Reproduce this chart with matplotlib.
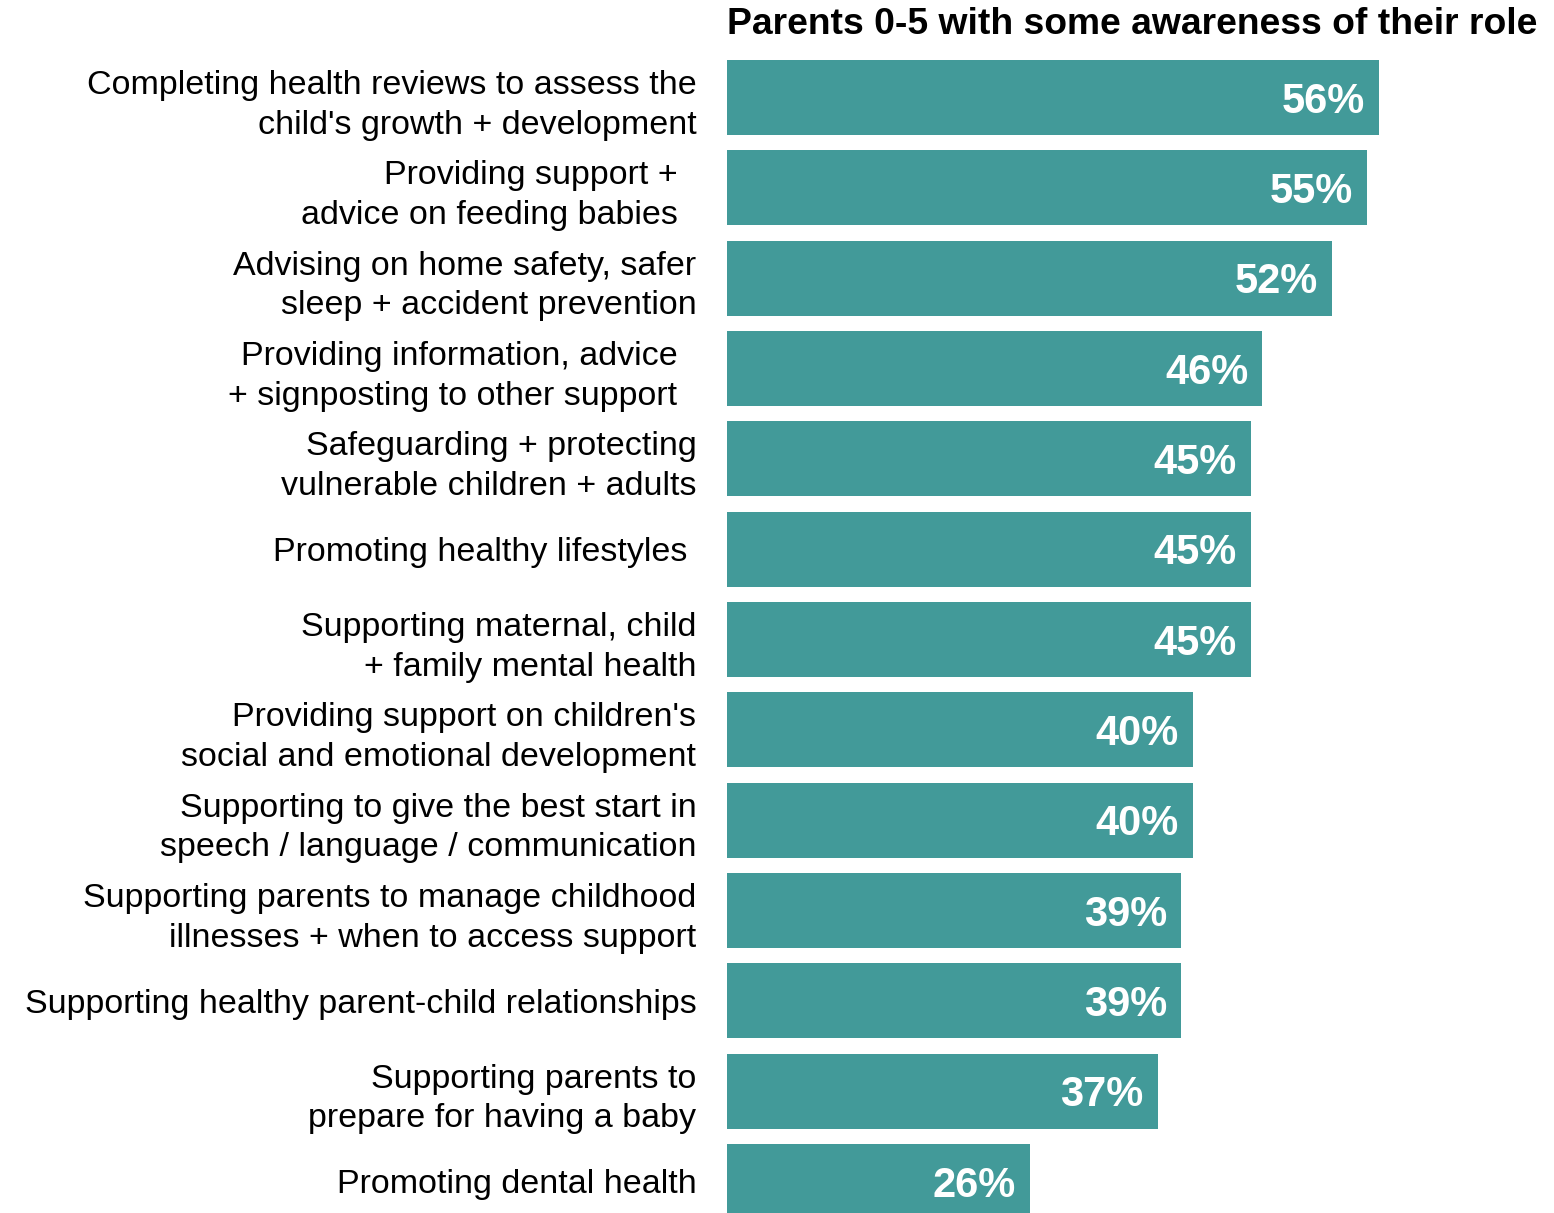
import matplotlib.pyplot as plt

# data
categories = [
    "Completing health reviews to assess the\nchild's growth + development",
    "Providing support +  \nadvice on feeding babies  ",
    "Advising on home safety, safer\nsleep + accident prevention",
    "Providing information, advice  \n+ signposting to other support  ",
    "Safeguarding + protecting\nvulnerable children + adults",
    "Promoting healthy lifestyles ",
    "Supporting maternal, child\n+ family mental health",
    "Providing support on children's\nsocial and emotional development",
    "Supporting to give the best start in\nspeech / language / communication",
    "Supporting parents to manage childhood\nillnesses + when to access support",
    "Supporting healthy parent-child relationships",
    "Supporting parents to\nprepare for having a baby",
    "Promoting dental health",
]
values = [56, 55, 52, 46, 45, 45, 45, 40, 40, 39, 39, 37, 26]
title = "Parents 0-5 with some awareness of their role"

bar_color = '#429a99'

W, H = 1554, 1213
fig = plt.figure(figsize=(W / 100, H / 100), dpi=100)
ax = fig.add_axes([727 / W, 0, 1 - 727 / W, 1])

pitch = 90.33
pos = list(range(len(values)))
ax.barh(pos, values, height=75 / pitch, color=bar_color, left=0)
ax.set_xlim(0, (W - 727) / 11.64)
ax.set_ylim((H - 97.5) / pitch, -97.5 / pitch)

ax.set_yticks(pos)
ax.set_yticklabels(categories, fontsize=24.5, family='Liberation Sans', linespacing=1.36)
ax.tick_params(axis='y', length=0, pad=22)
ax.set_xticks([])
for s in ax.spines.values():
    s.set_visible(False)

for p, v in zip(pos, values):
    ax.annotate(f"{v}%", xy=(v, p), xytext=(-10, -3), textcoords='offset points',
                ha='right', va='center', color='white', fontsize=30,
                fontweight='bold', family='Liberation Sans')

fig.text(1537 / W, 1 - 24 / H, title, ha='right', va='center', fontsize=26.8,
         fontweight='bold', family='Liberation Sans')

fig.savefig('out.png', dpi=100)
